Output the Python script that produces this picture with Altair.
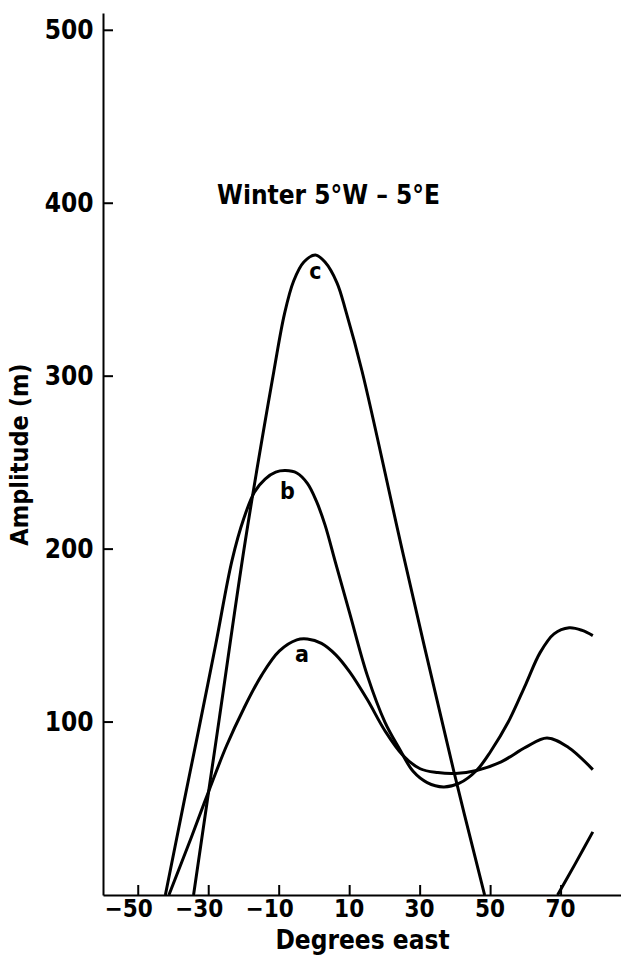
import altair as alt
import pandas as pd

# Curve a
a_x = [-41.3, -35.0, -30.0, -25.0, -20.0, -15.0, -10.0, -5.0, -2.0, 2.0, 6.0, 10.0, 15.0, 20.0, 25.0, 30.0, 35.0, 40.0, 46.0, 53.0, 60.0, 66.0, 72.0, 79.0]
a_y = [0.0, 33.0, 60.0, 86.0, 108.0, 127.0, 141.0, 147.5, 148.0, 145.5, 139.0, 129.0, 113.0, 95.0, 81.0, 73.0, 70.8, 70.3, 72.0, 77.0, 85.5, 90.8, 85.5, 72.5]

# Curve b
b_x = [-42.3, -37.0, -33.5, -28.0, -23.4, -20.0, -17.0, -14.0, -11.0, -8.2, -5.0, -2.0, 0.5, 3.0, 6.0, 10.0, 15.0, 20.0, 24.0, 28.0, 32.0, 36.6, 41.0, 46.0, 50.0, 55.0, 60.0, 64.0, 68.0, 72.3, 76.0, 79.0]
b_y = [0.0, 54.0, 89.0, 145.0, 193.4, 218.0, 233.0, 240.5, 244.5, 245.4, 244.0, 238.0, 228.0, 214.0, 192.0, 163.0, 127.0, 100.0, 85.0, 71.5, 65.0, 62.5, 64.5, 72.0, 83.0, 100.0, 122.0, 140.0, 151.0, 154.5, 153.0, 150.0]

# Curve c (two visible pieces above the axis)
c_x = [-34.3, -27.0, -19.6, -11.5, -8.5, -5.9, -3.0, 0.3, 3.0, 6.4, 9.0, 13.5, 25.3, 39.5, 48.3, 69.0, 74.0, 79.0]
c_y = [0.0, 102.0, 205.0, 303.0, 336.0, 355.0, 366.0, 370.0, 366.0, 354.0, 337.0, 303.0, 196.0, 72.0, 0.0, 0.0, 18.0, 36.5]
c_seg = [1] * 15 + [2] * 3

label_text = ["a", "b", "c"]
label_x = [-3.5, -7.7, 0.3]
label_y = [138.5, 233.0, 360.0]

note_text = ["Winter  5°W – 5°E"]
note_x = [4.0]
note_y = [404.0]

x_ticks = [-50, -30, -10, 10, 30, 50, 70]
y_ticks = [100, 200, 300, 400, 500]

rows = []
for xs, ys, segs, name in [(a_x, a_y, [1] * len(a_x), "a"), (b_x, b_y, [1] * len(b_x), "b"), (c_x, c_y, c_seg, "c")]:
    for xv, yv, s in zip(xs, ys, segs):
        rows.append({"x": xv, "y": yv, "key": f"{name}{s}"})
df = pd.DataFrame(rows)
labels_df = pd.DataFrame({"x": label_x, "y": label_y, "t": label_text})
note_df = pd.DataFrame({"x": note_x, "y": note_y, "t": note_text})
xt_df = pd.DataFrame({"x": x_ticks})
yt_df = pd.DataFrame({"y": y_ticks})

FONT = "DejaVu Sans Condensed"
W, H = 518, 882
xscale = alt.Scale(domain=[-60, 87], nice=False, zero=False)
yscale = alt.Scale(domain=[0, 510], nice=False, zero=False)

xaxis = alt.Axis(values=x_ticks, title="Degrees east", ticks=False, tickSize=0, grid=False,
                 labelFontSize=24, labelFont=FONT, labelFontWeight="bold", labelColor="black", labelPadding=2,
                 labelAlign="right", labelOffset=14,
                 titleFontSize=26, titleFont=FONT, titleFontWeight="bold", titleColor="black",
                 titlePadding=6, domainColor="black", domainWidth=2)
yaxis = alt.Axis(values=y_ticks, title="Amplitude (m)", ticks=False, tickSize=0, grid=False,
                 labelFontSize=26, labelFont=FONT, labelFontWeight="bold", labelColor="black", labelPadding=10,
                 titleFontSize=25, titleFont=FONT, titleFontWeight="bold", titleColor="black",
                 titlePadding=12, domainColor="black", domainWidth=2)

lines = alt.Chart(df).mark_line(color="black", strokeWidth=3, interpolate="catmull-rom", clip=True).encode(
    x=alt.X("x:Q", scale=xscale, axis=xaxis),
    y=alt.Y("y:Q", scale=yscale, axis=yaxis),
    detail="key:N",
)

labels = alt.Chart(labels_df).mark_text(fontSize=23, font=FONT, fontWeight="bold", color="black",
                                        baseline="middle", align="center").encode(
    x=alt.X("x:Q", scale=xscale), y=alt.Y("y:Q", scale=yscale), text="t:N")

note = alt.Chart(note_df).mark_text(fontSize=26, font=FONT, fontWeight="bold", color="black",
                                    baseline="middle", align="center").encode(
    x=alt.X("x:Q", scale=xscale), y=alt.Y("y:Q", scale=yscale), text="t:N")

yticks = alt.Chart(yt_df).mark_rule(color="black", strokeWidth=2).encode(
    y=alt.Y("y:Q", scale=yscale), x=alt.value(0), x2=alt.value(10))
xticks = alt.Chart(xt_df).mark_rule(color="black", strokeWidth=2).encode(
    x=alt.X("x:Q", scale=xscale), y=alt.value(H), y2=alt.value(H - 10))

chart = alt.layer(lines, labels, note, yticks, xticks).properties(
    width=W, height=H,
    autosize=alt.AutoSizeParams(type="none"),
    padding={"left": 103, "top": 13, "right": 0, "bottom": 63},
).configure(background="white").configure_view(stroke=None)

chart.save("out.html", embed_options={"renderer": "svg", "actions": False})
